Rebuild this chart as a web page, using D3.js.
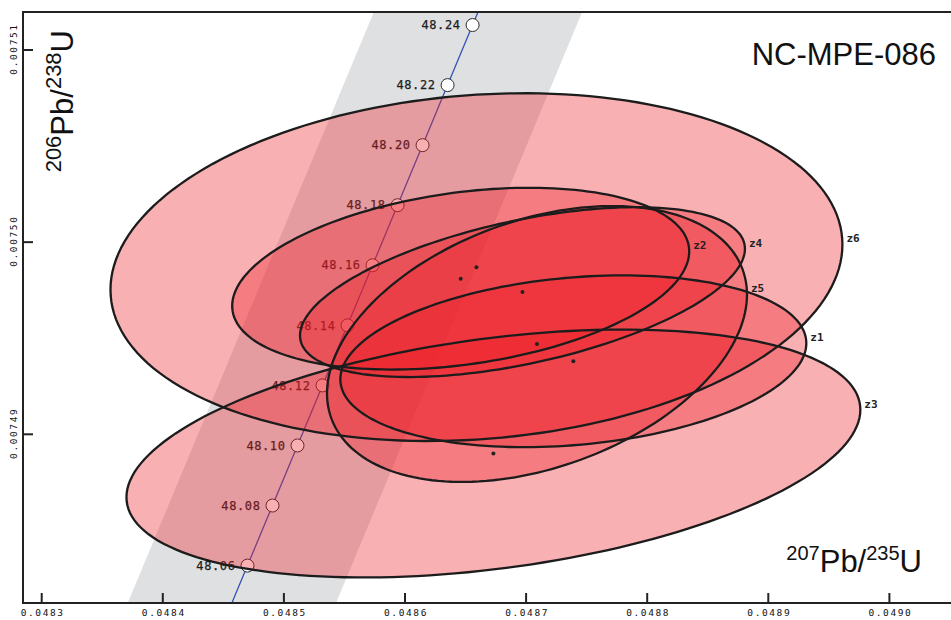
<!DOCTYPE html>
<html>
<head>
<meta charset="utf-8">
<script src="https://cdn.jsdelivr.net/npm/d3@7"></script>
<style>
  html, body { margin: 0; padding: 0; background: #fff; }
  svg { display: block; }
</style>
</head>
<body>
<svg id="chart" width="951" height="620"></svg>
<script>
// U-Pb concordia diagram, sample NC-MPE-086

// Analyses: 207Pb/235U, 206Pb/238U, ellipse half-axes (x, y) and error correlation
const spots   = ["z1", "z2", "z3", "z4", "z5", "z6"];
const r207235 = [0.048739, 0.048646, 0.048673, 0.048697, 0.048709, 0.048659];
const e207235 = [0.0001924, 0.0001887, 0.0003030, 0.0001837, 0.0001734, 0.0003022];
const r206238 = [0.0074938, 0.0074981, 0.0074890, 0.0074974, 0.0074947, 0.0074987];
const e206238 = [0.00000447, 0.00000473, 0.00000645, 0.00000442, 0.00000718, 0.00000905];
const rhos    = [0.21, 0.30, 0.353, 0.51, 0.358, 0.13];

// Concordia age marks (Ma) and axis ticks
const ageMarks = [48.06, 48.08, 48.10, 48.12, 48.14, 48.16, 48.18, 48.20, 48.22, 48.24];
const xTicks = [0.0483, 0.0484, 0.0485, 0.0486, 0.0487, 0.0488, 0.0489, 0.0490];
const yTicks = [0.00749, 0.00750, 0.00751];

// Decay constants (per year) and half-width of the decay-constant uncertainty band in 207/235
const lambda238 = 1.55125e-10;
const lambda235 = 9.8485e-10;
const bandHalfWidth = 0.0000860;

const svg = d3.select("#chart");
const frame = { left: 23, top: 12, right: 953, bottom: 603 };

const x = d3.scaleLinear().domain([0.0483, 0.0490]).range([41.7, 889.4]);
const y = d3.scaleLinear().domain([0.00749, 0.00751]).range([434.3, 50]);

const concordia = t => [Math.expm1(lambda235 * t * 1e6), Math.expm1(lambda238 * t * 1e6)];

svg.append("defs").append("clipPath").attr("id", "plot-clip")
  .append("rect")
  .attr("x", frame.left).attr("y", frame.top)
  .attr("width", frame.right - frame.left).attr("height", frame.bottom - frame.top);

const plot = svg.append("g").attr("clip-path", "url(#plot-clip)");

// Concordia curve samples
const tRange = d3.range(47.90, 48.42, 0.005);
const curve = tRange.map(concordia);

// Uncertainty band
const band = curve.map(([cx, cy]) => [cx - bandHalfWidth, cy])
  .concat(curve.slice().reverse().map(([cx, cy]) => [cx + bandHalfWidth, cy]));
plot.append("path")
  .attr("d", d3.line().x(d => x(d[0])).y(d => y(d[1])).curve(d3.curveLinearClosed)(band))
  .attr("fill", "#dfe0e2");

// Concordia line
plot.append("path")
  .attr("d", d3.line().x(d => x(d[0])).y(d => y(d[1]))(curve))
  .attr("fill", "none")
  .attr("stroke", "#3553b5")
  .attr("stroke-width", 1.3);

// Age markers and labels
const marks = plot.append("g").selectAll("g").data(ageMarks).join("g")
  .attr("transform", d => { const p = concordia(d); return `translate(${x(p[0])},${y(p[1])})`; });
marks.append("circle")
  .attr("r", 6.5)
  .attr("fill", "#fff")
  .attr("stroke", "#2b2b2b")
  .attr("stroke-width", 1);
marks.append("text")
  .attr("x", -12)
  .attr("y", 0)
  .attr("dy", "0.35em")
  .attr("text-anchor", "end")
  .attr("font-family", "DejaVu Sans Mono, monospace")
  .attr("font-size", 12)
  .attr("letter-spacing", 0.6)
  .attr("stroke", "#1c1c1c")
  .attr("stroke-width", 0.25)
  .attr("fill", "#1c1c1c")
  .text(d => d.toFixed(2));

// Error ellipses: all fills first, then outlines on top
const ellipsePoints = i => d3.range(0, 361, 2).map(deg => {
  const t = deg * Math.PI / 180;
  const r = rhos[i];
  return [
    r207235[i] + e207235[i] * Math.cos(t),
    r206238[i] + e206238[i] * (r * Math.cos(t) + Math.sqrt(1 - r * r) * Math.sin(t))
  ];
});
const ellLine = d3.line().x(d => x(d[0])).y(d => y(d[1])).curve(d3.curveLinearClosed);
const order = [5, 2, 0, 1, 3, 4];

plot.append("g").selectAll("path").data(order).join("path")
  .attr("d", i => ellLine(ellipsePoints(i)))
  .attr("fill", "rgb(237,28,36)")
  .attr("fill-opacity", 0.35);

plot.append("g").selectAll("path").data(order).join("path")
  .attr("d", i => ellLine(ellipsePoints(i)))
  .attr("fill", "none")
  .attr("stroke", "#1c1c1c")
  .attr("stroke-width", 2.3);

// Centre points
plot.append("g").selectAll("circle").data(order).join("circle")
  .attr("cx", i => x(r207235[i]))
  .attr("cy", i => y(r206238[i]))
  .attr("r", 2)
  .attr("fill", "#222");

// Spot labels just above the right end of each ellipse
plot.append("g").selectAll("text").data(order).join("text")
  .attr("x", i => x(r207235[i] + e207235[i]) + 4)
  .attr("y", i => y(r206238[i] + e206238[i] * rhos[i]) - 6)
  .attr("dy", "0.35em")
  .attr("font-family", "DejaVu Sans Mono, monospace")
  .attr("font-weight", "bold")
  .attr("font-size", 11)
  .attr("fill", "#222")
  .text(i => spots[i]);

// Frame
svg.append("path")
  .attr("d", `M${frame.right},${frame.top}H${frame.left}V${frame.bottom}H${frame.right}`)
  .attr("fill", "none")
  .attr("stroke", "#222")
  .attr("stroke-width", 2);

// Inward ticks
svg.append("g").selectAll("line").data(xTicks).join("line")
  .attr("x1", d => x(d)).attr("x2", d => x(d))
  .attr("y1", frame.bottom).attr("y2", frame.bottom - 10)
  .attr("stroke", "#222").attr("stroke-width", 2);
svg.append("g").selectAll("line").data(yTicks).join("line")
  .attr("x1", frame.left).attr("x2", frame.left + 10)
  .attr("y1", d => y(d)).attr("y2", d => y(d))
  .attr("stroke", "#222").attr("stroke-width", 2);

// Tick labels
svg.append("g").selectAll("text").data(xTicks).join("text")
  .attr("x", d => x(d) + 1)
  .attr("y", 615.5)
  .attr("text-anchor", "middle")
  .attr("font-family", "DejaVu Sans Mono, monospace")
  .attr("font-size", 9.5)
  .attr("letter-spacing", 1.6)
  .attr("fill", "#111")
  .text(d => d3.format(".4f")(d));
svg.append("g").selectAll("text").data(yTicks).join("text")
  .attr("transform", d => `translate(17,${y(d) - 1}) rotate(-90)`)
  .attr("text-anchor", "middle")
  .attr("font-family", "DejaVu Sans Mono, monospace")
  .attr("font-size", 9.5)
  .attr("letter-spacing", 1.6)
  .attr("fill", "#111")
  .text(d => d3.format(".5f")(d));

// Axis titles and sample name
function isotopeLabel(sel, supSize, a, b, c, d) {
  sel.append("tspan").attr("font-size", supSize).attr("dy", -12).text(a);
  sel.append("tspan").attr("dy", 12).text(b);
  sel.append("tspan").attr("font-size", supSize).attr("dy", -12).text(c);
  sel.append("tspan").attr("dy", 12).text(d);
}
const titleFont = "Liberation Sans, Arial, Helvetica, sans-serif";

svg.append("text")
  .attr("transform", "translate(73,30) rotate(-90)")
  .attr("text-anchor", "end")
  .attr("font-family", titleFont)
  .attr("font-size", 31)
  .attr("fill", "#111")
  .call(isotopeLabel, 22, "206", "Pb/", "238", "U");

svg.append("text")
  .attr("x", 922)
  .attr("y", 572)
  .attr("text-anchor", "end")
  .attr("font-family", titleFont)
  .attr("font-size", 31)
  .attr("fill", "#111")
  .call(isotopeLabel, 20, "207", "Pb/", "235", "U");

svg.append("text")
  .attr("x", 936)
  .attr("y", 65)
  .attr("text-anchor", "end")
  .attr("font-family", titleFont)
  .attr("font-size", 31)
  .attr("fill", "#111")
  .text("NC-MPE-086");
</script>
</body>
</html>
